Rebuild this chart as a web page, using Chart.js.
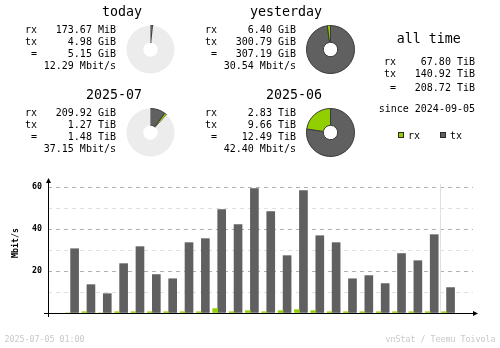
<!DOCTYPE html>
<html>
<head>
<meta charset="utf-8">
<title>vnStat summary</title>
<script src="https://cdn.jsdelivr.net/npm/chart.js@4.4.1/dist/chart.umd.min.js"></script>
<style>
  html, body { margin: 0; padding: 0; background: #fff; }
  #page { position: relative; width: 500px; height: 348px; overflow: hidden; background: #fff;
          font-family: "DejaVu Sans Mono", monospace; color: #000; }
  #hourly { position: absolute; left: 0; top: 0; }
  .txt { position: absolute; white-space: pre; }
  .pie { position: absolute; }
  .key { position: absolute; width: 4px; height: 4px; border: 1px solid #2a2a2a; }
</style>
</head>
<body>
<div id="page">
  <canvas id="hourly" width="500" height="348"></canvas>
</div>
<script>
// period summaries
const periods = ['today', 'yesterday', '2025-07', '2025-06'];
const periodRx = ['173.67 MiB', '6.40 GiB', '209.92 GiB', '2.83 TiB'];
const periodTx = ['4.98 GiB', '300.79 GiB', '1.27 TiB', '9.66 TiB'];
const periodTotal = ['5.15 GiB', '307.19 GiB', '1.48 TiB', '12.49 TiB'];
const periodRate = ['12.29 Mbit/s', '30.54 Mbit/s', '37.15 Mbit/s', '42.40 Mbit/s'];
// ongoing periods are drawn against the full period before them
const comparedWith = [1, null, 3, null];

const allTimeRx = '67.80 TiB';
const allTimeTx = '140.92 TiB';
const allTimeTotal = '208.72 TiB';
const sinceDate = '2024-09-05';

// hourly average rate, Mbit/s
const hours = ['01', '02', '03', '04', '05', '06', '07', '08', '09', '10', '11', '12',
               '13', '14', '15', '16', '17', '18', '19', '20', '21', '22', '23', '00'];
const hourRx = [0, 0.6, 0, 0.6, 0.6, 0.6, 0.6, 0.6, 0.6, 2.1, 0.6, 1.1,
                0.6, 1.1, 1.6, 1.1, 0.6, 0.6, 0.6, 0.6, 0.6, 0.6, 0.6, 0.6];
const hourTx = [30.6, 13.5, 9.2, 23.5, 31.6, 18.3, 16.3, 33.5, 35.4, 49.2, 42.1, 59.2,
                48.3, 27.3, 58.3, 36.8, 33.5, 16.3, 17.8, 14.0, 28.3, 24.9, 37.3, 12.1];
const rateMax = 60;
const rateStep = 10;

const generatedAt = '2025-07-05 01:00';
const credit = 'vnStat / Teemu Toivola';

const RX = '#92cf00';
const TX = '#606060';
const EDGE = '#3a3a3a';
const PAGE_W = 500;
const FONT = '"DejaVu Sans Mono", monospace';

const page = document.getElementById('page');

function toGiB(s) {
  const [num, unit] = s.split(' ');
  return parseFloat(num) * { MiB: 1 / 1024, GiB: 1, TiB: 1024 }[unit];
}

// place a line of text by its baseline
function putText(text, x, baseline, size, align, color) {
  const el = document.createElement('div');
  el.className = 'txt';
  el.textContent = text;
  el.style.fontSize = size + 'px';
  el.style.lineHeight = (size * 1.164) + 'px';
  el.style.top = (baseline - size * 0.928) + 'px';
  if (align === 'right') {
    el.style.right = (PAGE_W - x) + 'px';
  } else if (align === 'center') {
    el.style.left = x + 'px';
    el.style.transform = 'translateX(-50%)';
  } else {
    el.style.left = x + 'px';
  }
  if (color) el.style.color = color;
  page.appendChild(el);
}

// summary blocks: today / yesterday / this month / last month
const spots = [[25, 0], [205, 0], [25, 83], [205, 83]];

periods.forEach((name, i) => {
  const [bx, by] = spots[i];
  putText(name, bx + 117, by + 16.5, 13.3, 'right');
  putText('rx', bx, by + 33, 10);
  putText('tx', bx, by + 45, 10);
  putText(' =', bx, by + 57, 10);
  putText(periodRx[i], bx + 91, by + 33, 10, 'right');
  putText(periodTx[i], bx + 91, by + 45, 10, 'right');
  putText(periodTotal[i], bx + 91, by + 57, 10, 'right');
  putText(periodRate[i], bx + 91, by + 69, 10, 'right');

  const cv = document.createElement('canvas');
  cv.className = 'pie';
  cv.width = 49;
  cv.height = 49;
  cv.style.left = (bx + 101) + 'px';
  cv.style.top = (by + 25) + 'px';
  page.appendChild(cv);

  const ref = comparedWith[i];
  const rest = ref === null ? 0 : toGiB(periodTotal[ref]) - toGiB(periodTotal[i]);

  new Chart(cv, {
    type: 'doughnut',
    data: {
      labels: ['tx', 'rx', ''],
      datasets: [{
        data: [toGiB(periodTx[i]), toGiB(periodRx[i]), rest],
        backgroundColor: [TX, RX, '#ececec'],
        borderColor: [EDGE, EDGE, '#ececec'],
        borderWidth: [1, 1, 0]
      }]
    },
    options: {
      responsive: false,
      devicePixelRatio: 1,
      animation: false,
      events: [],
      cutout: '30%',
      plugins: { legend: { display: false }, tooltip: { enabled: false } }
    }
  });
});

// all time
putText('all time', 428.7, 43.5, 13.3, 'center');
putText('rx', 384, 65, 10);
putText('tx', 384, 77, 10);
putText(' =', 384, 91, 10);
putText(allTimeRx, 475, 65, 10, 'right');
putText(allTimeTx, 475, 77, 10, 'right');
putText(allTimeTotal, 475, 91, 10, 'right');
putText('since ' + sinceDate, 475, 112, 10, 'right');

// legend
[[RX, 398, 'rx'], [TX, 440, 'tx']].forEach(([color, x, label]) => {
  const k = document.createElement('div');
  k.className = 'key';
  k.style.left = x + 'px';
  k.style.top = '132px';
  k.style.background = color;
  page.appendChild(k);
  putText(label, x + 10, 139, 10);
});

putText(generatedAt, 4.5, 342.5, 8.3, 'left', '#c8c8c8');
putText(credit, 495.5, 342.5, 8.3, 'right', '#c8c8c8');

// axes with arrow heads, the current-hour marker and the unit label
const hourlyFrame = {
  id: 'hourlyFrame',
  beforeDatasetsDraw(chart) {
    const { ctx, chartArea: a, scales: { x } } = chart;
    const n = hours.length;
    const mx = Math.round((x.getPixelForValue(n - 2) + 8 + x.getPixelForValue(n - 1) - 5) / 2);
    ctx.save();
    ctx.fillStyle = '#e0e0e0';
    ctx.fillRect(mx, a.top - 3, 1, a.bottom - a.top + 3);
    ctx.restore();
  },
  afterDraw(chart) {
    const { ctx, chartArea: a } = chart;
    const ax = Math.round(a.left);
    const ay = Math.round(a.bottom);
    ctx.save();
    ctx.fillStyle = '#000';
    ctx.fillRect(ax, a.top - 6, 1, ay - a.top + 10);
    ctx.fillRect(ax - 4, ay, a.right - ax + 5, 1);
    ctx.beginPath();
    ctx.moveTo(ax + 0.5, a.top - 9);
    ctx.lineTo(ax - 2, a.top - 4);
    ctx.lineTo(ax + 3, a.top - 4);
    ctx.closePath();
    ctx.fill();
    ctx.beginPath();
    ctx.moveTo(a.right + 5, ay + 0.5);
    ctx.lineTo(a.right, ay - 2);
    ctx.lineTo(a.right, ay + 3);
    ctx.closePath();
    ctx.fill();

    ctx.translate(17.5, 243);
    ctx.rotate(-Math.PI / 2);
    ctx.font = 'bold 8.3px ' + FONT;
    ctx.textAlign = 'center';
    ctx.textBaseline = 'alphabetic';
    ctx.fillText('Mbit/s', 0, 0);
    ctx.restore();
  }
};

const tickFont = { family: FONT, size: 8.3, weight: 'bold' };

new Chart(document.getElementById('hourly'), {
  type: 'bar',
  data: {
    datasets: [{
      label: 'rx',
      data: hours.map((h, i) => ({ x: i, y: hourRx[i] })),
      backgroundColor: RX,
      barThickness: 5
    }, {
      label: 'tx',
      data: hours.map((h, i) => ({ x: i, y: hourTx[i] })),
      backgroundColor: TX,
      barThickness: 8
    }]
  },
  options: {
    responsive: false,
    devicePixelRatio: 1,
    animation: false,
    events: [],
    layout: { padding: { top: 187, left: 0, right: 27, bottom: 15 } },
    plugins: { legend: { display: false }, tooltip: { enabled: false } },
    scales: {
      x: {
        type: 'linear',
        min: -15 / 17,
        max: 25 - 15 / 17,
        afterFit: (s) => { s.height = 20; },
        grid: { display: false },
        border: { display: false },
        ticks: {
          stepSize: 1,
          autoSkip: false,
          maxRotation: 0,
          includeBounds: false,
          padding: 4,
          labelOffset: 1.5,
          color: '#000',
          font: tickFont,
          callback: (v) => hours[v] ?? ''
        }
      },
      y: {
        min: 0,
        max: rateMax,
        afterFit: (s) => { s.width = 48; },
        grid: {
          drawTicks: false,
          color: (c) => c.tick.value === 0 ? 'rgba(0,0,0,0)'
            : (c.tick.value % 20 === 0 ? '#b0b0b0' : '#e0e0e0')
        },
        border: { display: false, dash: [4, 4] },
        ticks: {
          stepSize: rateStep,
          padding: 6,
          color: '#000',
          font: tickFont,
          callback: (v) => (v > 0 && v % 20 === 0) ? v : ''
        }
      }
    }
  },
  plugins: [hourlyFrame]
});
</script>
</body>
</html>
